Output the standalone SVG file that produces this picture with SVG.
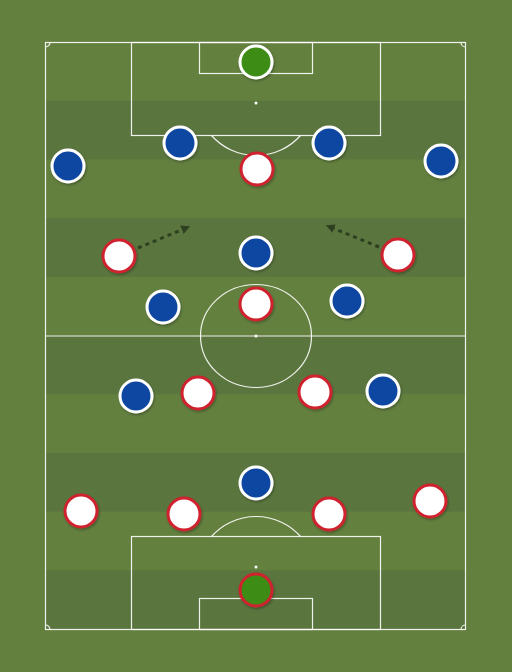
<svg xmlns="http://www.w3.org/2000/svg" width="512" height="672" viewBox="0 0 512 672">
<style>
.line{fill:none;stroke:#ffffff;stroke-width:1.2;opacity:0.9}
.stripe{fill:#5a753e}
.blue{fill:#0d47a1;stroke:#ffffff;stroke-width:3}
.red{fill:#ffffff;stroke:#d0222f;stroke-width:3}
.gkb{fill:#3d8c17;stroke:#ffffff;stroke-width:3}
.gkr{fill:#3d8c17;stroke:#d0222f;stroke-width:3}
.arrow{fill:none;stroke:#2f4021;stroke-width:3;stroke-dasharray:4 4}
</style>
<defs>
<filter id="sh" x="-30%" y="-30%" width="160%" height="160%">
<feDropShadow dx="1" dy="1.5" stdDeviation="1" flood-color="#000" flood-opacity="0.3"/>
</filter>
<marker id="ah" viewBox="0 0 10 10" refX="5" refY="5" markerWidth="3" markerHeight="3" orient="auto">
<path d="M0,0 L10,5 L0,10 z" fill="#2f4021"/>
</marker>
</defs>
<rect width="512" height="672" fill="#63803f"/>
<g id="pitch">
<rect class="stripe" x="45" y="100.7" width="420" height="58.7"/>
<rect class="stripe" x="45" y="218.1" width="420" height="58.7"/>
<rect class="stripe" x="45" y="335.5" width="420" height="58.7"/>
<rect class="stripe" x="45" y="452.9" width="420" height="58.7"/>
<rect class="stripe" x="45" y="570.3" width="420" height="58.7"/>
<rect class="line" x="45.5" y="42.5" width="420" height="587"/>
<line class="line" x1="45.5" y1="336" x2="465.5" y2="336"/>
<ellipse class="line" cx="256" cy="336" rx="55.5" ry="51.5"/>
<circle cx="256" cy="336" r="1.5" fill="#fff"/>
<rect class="line" x="131.5" y="42.5" width="249" height="93"/>
<rect class="line" x="199.5" y="42.5" width="113" height="31"/>
<circle cx="256" cy="103" r="1.5" fill="#fff"/>
<path class="line" d="M211.5,135.5 A59.5,59.5 0 0 0 300.5,135.5"/>
<rect class="line" x="131.5" y="536.5" width="249" height="93"/>
<rect class="line" x="199.5" y="598.5" width="113" height="31"/>
<circle cx="256" cy="567" r="1.5" fill="#fff"/>
<path class="line" d="M211.5,536.5 A59.5,59.5 0 0 1 300.5,536.5"/>
<path class="line" d="M45.5,47 A4.5,4.5 0 0 0 50,42.5"/>
<path class="line" d="M461,42.5 A4.5,4.5 0 0 0 465.5,47"/>
<path class="line" d="M45.5,625 A4.5,4.5 0 0 1 50,629.5"/>
<path class="line" d="M461,629.5 A4.5,4.5 0 0 1 465.5,625"/>
</g>
<g id="connectors">
<line class="arrow" x1="138" y1="248" x2="186" y2="228" marker-end="url(#ah)"/>
<line class="arrow" x1="379" y1="247" x2="330" y2="227" marker-end="url(#ah)"/>
</g>
<g id="players" filter="url(#sh)">
<g id="b-gk"><circle class="gkb" cx="256" cy="62" r="16"/></g>
<g id="b1"><circle class="blue" cx="68" cy="166" r="16"/></g>
<g id="b2"><circle class="blue" cx="180" cy="143" r="16"/></g>
<g id="b3"><circle class="blue" cx="329" cy="143" r="16"/></g>
<g id="b4"><circle class="blue" cx="441" cy="161" r="16"/></g>
<g id="b5"><circle class="blue" cx="256" cy="253" r="16"/></g>
<g id="b6"><circle class="blue" cx="163" cy="307" r="16"/></g>
<g id="b7"><circle class="blue" cx="347" cy="301" r="16"/></g>
<g id="b8"><circle class="blue" cx="136" cy="396" r="16"/></g>
<g id="b9"><circle class="blue" cx="383" cy="391" r="16"/></g>
<g id="b10"><circle class="blue" cx="256" cy="483" r="16"/></g>
<g id="r1"><circle class="red" cx="257" cy="169" r="16"/></g>
<g id="r2"><circle class="red" cx="119" cy="256" r="16"/></g>
<g id="r3"><circle class="red" cx="398" cy="255" r="16"/></g>
<g id="r4"><circle class="red" cx="256" cy="304" r="16"/></g>
<g id="r5"><circle class="red" cx="198" cy="393" r="16"/></g>
<g id="r6"><circle class="red" cx="315" cy="392" r="16"/></g>
<g id="r7"><circle class="red" cx="81" cy="511" r="16"/></g>
<g id="r8"><circle class="red" cx="184" cy="514" r="16"/></g>
<g id="r9"><circle class="red" cx="329" cy="514" r="16"/></g>
<g id="r10"><circle class="red" cx="430" cy="501" r="16"/></g>
<g id="r-gk"><circle class="gkr" cx="256" cy="590" r="16"/></g>
</g>
</svg>
